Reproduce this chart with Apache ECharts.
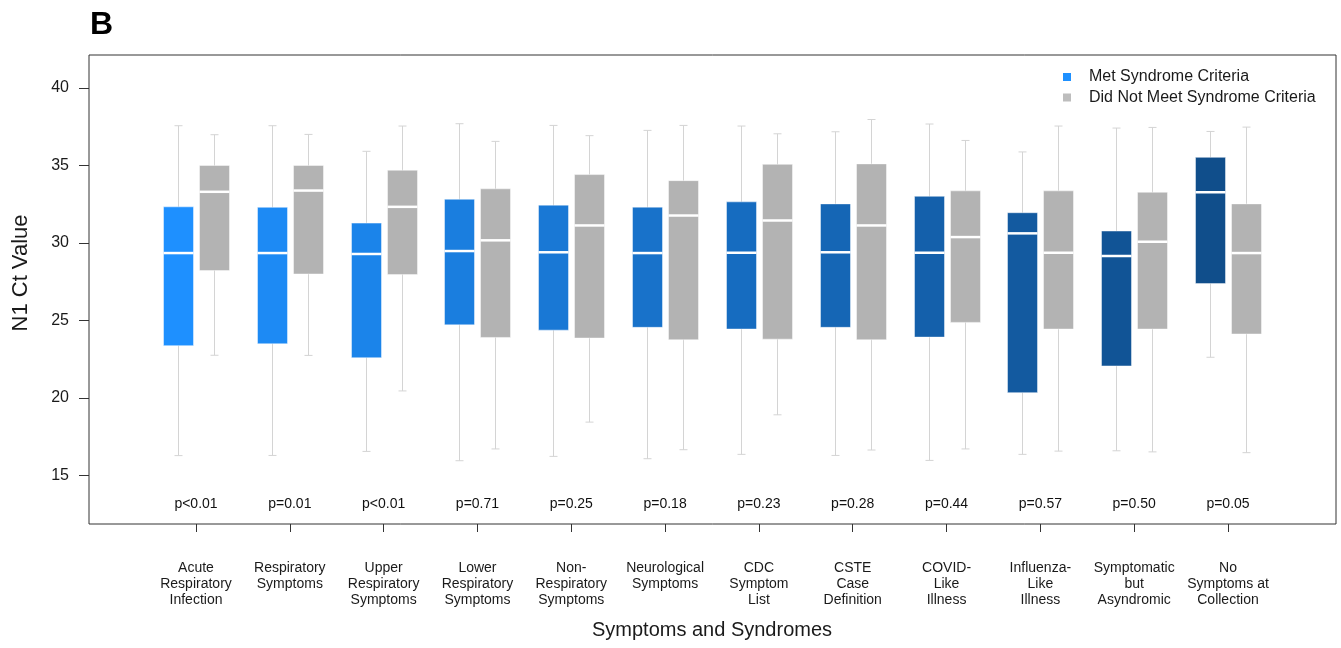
<!DOCTYPE html>
<html>
<head>
<meta charset="utf-8">
<script src="https://cdn.jsdelivr.net/npm/echarts@6/dist/echarts.min.js"></script>
<style>
html,body{margin:0;padding:0;background:#fff;}
#chart{width:1341px;height:648px;}
</style>
</head>
<body>
<div id="chart"></div>
<script>
// ---- data ----
const categories = [
  'Acute\nRespiratory\nInfection', 'Respiratory\nSymptoms', 'Upper\nRespiratory\nSymptoms',
  'Lower\nRespiratory\nSymptoms', 'Non-\nRespiratory\nSymptoms', 'Neurological\nSymptoms',
  'CDC\nSymptom\nList', 'CSTE\nCase\nDefinition', 'COVID-\nLike\nIllness',
  'Influenza-\nLike\nIllness', 'Symptomatic\nbut\nAsyndromic', 'No\nSymptoms at\nCollection'
];
const seriesNames = ['Met Syndrome Criteria', 'Did Not Meet Syndrome Criteria'];

const metLow  = [16.29, 16.30, 16.56, 15.96, 16.24, 16.09, 16.37, 16.30, 15.98, 16.37, 16.60, 22.63];
const metQ1   = [23.38, 23.50, 22.60, 24.72, 24.38, 24.56, 24.45, 24.56, 23.93, 20.35, 22.07, 27.38];
const metMed  = [29.35, 29.35, 29.29, 29.48, 29.40, 29.35, 29.37, 29.40, 29.37, 30.62, 29.16, 33.27];
const metQ3   = [32.33, 32.30, 31.28, 32.82, 32.44, 32.31, 32.65, 32.52, 33.01, 31.95, 30.77, 35.52];
const metHigh = [37.56, 37.56, 35.91, 37.69, 37.58, 37.26, 37.54, 37.17, 37.67, 35.87, 37.41, 37.19];

const notLow  = [22.76, 22.75, 20.46, 16.72, 18.45, 16.67, 18.92, 16.65, 16.72, 16.58, 16.53, 16.48];
const notQ1   = [28.22, 28.00, 27.96, 23.91, 23.87, 23.76, 23.80, 23.76, 24.88, 24.45, 24.45, 24.13];
const notMed  = [33.30, 33.38, 32.33, 30.17, 31.13, 31.77, 31.45, 31.13, 30.38, 29.37, 30.08, 29.35];
const notQ3   = [35.00, 35.00, 34.69, 33.49, 34.41, 34.02, 35.07, 35.10, 33.36, 33.36, 33.27, 32.52];
const notHigh = [36.98, 37.00, 37.54, 36.55, 36.92, 37.58, 37.04, 37.96, 36.61, 37.54, 37.45, 37.47];

const pValues = ['p<0.01', 'p=0.01', 'p<0.01', 'p=0.71', 'p=0.25', 'p=0.18',
                 'p=0.23', 'p=0.28', 'p=0.44', 'p=0.57', 'p=0.50', 'p=0.05'];
const pLabelY = 13.15;
const yTicks = [15, 20, 25, 30, 35, 40];
const yMin = 11.88, yMax = 42.12;

// ---- style ----
const FONT = '"Liberation Sans", Arial, Helvetica, sans-serif';
const blueStart = [30, 144, 255], blueEnd = [16, 78, 139];
const bluePalette = categories.map((_, i) => {
  const t = i / (categories.length - 1);
  const c = blueStart.map((s, k) => Math.round(s + (blueEnd[k] - s) * t));
  return 'rgb(' + c.join(',') + ')';
});
const GRAY = '#B3B3B3';

function rows(low, q1, med, q3, high) {
  return categories.map((_, i) => [i, low[i], q1[i], med[i], q3[i], high[i]]);
}

function boxRenderer(offset, colorOf) {
  return function (params, api) {
    const i = api.value(0);
    const xc = Math.round(api.coord([i, api.value(3)])[0] + offset) + 0.5;
    const yLow = api.coord([i, api.value(1)])[1];
    const yQ1 = api.coord([i, api.value(2)])[1];
    const yMed = api.coord([i, api.value(3)])[1];
    const yQ3 = api.coord([i, api.value(4)])[1];
    const yHigh = api.coord([i, api.value(5)])[1];
    const hw = 15, cap = 4;
    const wStyle = { stroke: '#D4D4D4', lineWidth: 1 };
    return {
      type: 'group',
      children: [
        { type: 'line', shape: { x1: xc, y1: yHigh, x2: xc, y2: yLow }, style: wStyle },
        { type: 'line', shape: { x1: xc - cap, y1: yHigh, x2: xc + cap, y2: yHigh }, style: wStyle },
        { type: 'line', shape: { x1: xc - cap, y1: yLow, x2: xc + cap, y2: yLow }, style: wStyle },
        { type: 'rect', shape: { x: xc - hw, y: yQ3, width: 2 * hw, height: yQ1 - yQ3 },
          style: { fill: colorOf(i), stroke: 'rgba(255,255,255,0.45)', lineWidth: 1 } },
        { type: 'line', shape: { x1: xc - hw, y1: yMed, x2: xc + hw, y2: yMed },
          style: { stroke: '#ffffff', lineWidth: 2.5 } }
      ]
    };
  };
}

const chart = echarts.init(document.getElementById('chart'), null, { renderer: 'canvas' });

const option = {
  animation: false,
  backgroundColor: '#ffffff',
  textStyle: { fontFamily: FONT },
  grid: [
    { left: 89, right: 5, top: 55, bottom: 124, show: true, borderColor: '#333333', borderWidth: 1,
      backgroundColor: 'transparent' },
    { left: 149.1, right: 66.1, top: 55, bottom: 124 }
  ],
  xAxis: [
    { gridIndex: 0, type: 'value', show: false, min: 0, max: 1 },
    {
      gridIndex: 1, type: 'category', data: categories, boundaryGap: true,
      axisLine: { show: false },
      axisTick: { show: true, alignWithLabel: true, length: 8, lineStyle: { color: '#333333', width: 1 } },
      axisLabel: { interval: 0, margin: 36, fontSize: 14, lineHeight: 16, color: '#1a1a1a', fontFamily: FONT },
      splitLine: { show: false },
      name: 'Symptoms and Syndromes', nameLocation: 'middle', nameGap: 96,
      nameTextStyle: { fontSize: 20, color: '#1a1a1a', fontFamily: FONT }
    }
  ],
  yAxis: [
    {
      gridIndex: 0, type: 'value', min: yMin, max: yMax,
      axisLine: { show: false },
      axisTick: { show: true, length: 10, customValues: yTicks, lineStyle: { color: '#333333' } },
      axisLabel: { show: true, margin: 20, fontSize: 16, color: '#1a1a1a', customValues: yTicks, fontFamily: FONT },
      splitLine: { show: false }
    },
    { gridIndex: 1, type: 'value', min: yMin, max: yMax, show: false, splitLine: { show: false } }
  ],
  legend: {
    orient: 'vertical', left: 1058, top: 64, itemWidth: 8, itemHeight: 8, itemGap: 4.5,
    icon: 'rect',
    textStyle: { fontSize: 16, color: '#1a1a1a', fontFamily: FONT, lineHeight: 16, padding: [0, 0, 0, 13] },
    data: [
      { name: seriesNames[0], itemStyle: { color: '#1E90FF' } },
      { name: seriesNames[1], itemStyle: { color: '#BDBDBD' } }
    ]
  },
  graphic: [
    { type: 'text', left: 90, top: 9, style: { text: 'B', font: 'bold 32px ' + FONT, fill: '#000' } },
    { type: 'text', x: 21, y: 273, rotation: Math.PI / 2,
      style: { text: 'N1 Ct Value', font: '22px ' + FONT, fill: '#1a1a1a', align: 'center', verticalAlign: 'middle' } }
  ],
  series: [
    {
      name: seriesNames[0], type: 'custom', xAxisIndex: 1, yAxisIndex: 1,
      itemStyle: { color: '#1E90FF' },
      encode: { x: 0, y: [1, 2, 3, 4, 5] },
      renderItem: boxRenderer(-18, i => bluePalette[i]),
      data: rows(metLow, metQ1, metMed, metQ3, metHigh)
    },
    {
      name: seriesNames[1], type: 'custom', xAxisIndex: 1, yAxisIndex: 1,
      itemStyle: { color: GRAY },
      encode: { x: 0, y: [1, 2, 3, 4, 5] },
      renderItem: boxRenderer(18, () => GRAY),
      data: rows(notLow, notQ1, notMed, notQ3, notHigh)
    },
    {
      name: 'p-values', type: 'scatter', xAxisIndex: 1, yAxisIndex: 1,
      symbolSize: 1, itemStyle: { color: 'rgba(255,255,255,0)' }, silent: true,
      label: {
        show: true, position: 'inside', fontSize: 14, color: '#111111', opacity: 1, fontFamily: FONT,
        textBorderWidth: 0,
        formatter: p => pValues[p.dataIndex]
      },
      data: categories.map((_, i) => [i, pLabelY])
    }
  ]
};
chart.setOption(option);
</script>
</body>
</html>
